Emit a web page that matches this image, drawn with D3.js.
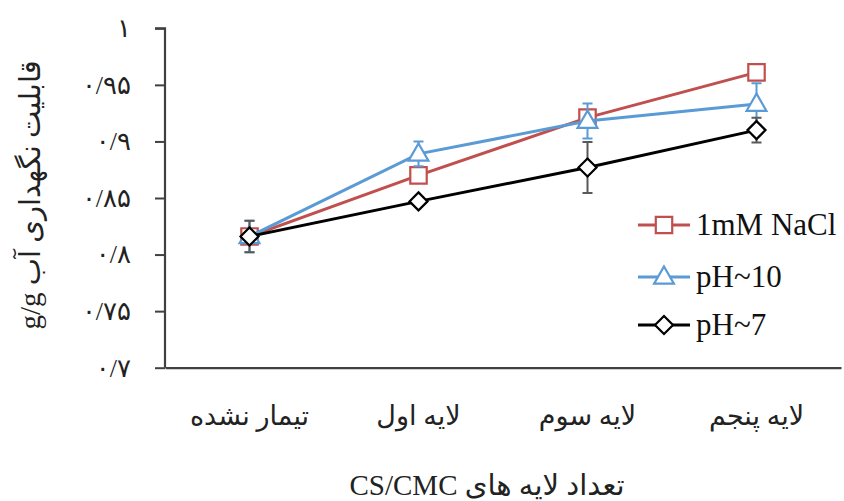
<!DOCTYPE html>
<html><head><meta charset="utf-8">
<script src="https://cdn.jsdelivr.net/npm/d3@7"></script>
<style>body{margin:0;background:#fff}svg{display:block}</style>
</head><body>
<script>
const categories = ["تیمار نشده", "لایه اول", "لایه سوم", "لایه پنجم"];
const seriesNames = ["1mM NaCl", "pH~10", "pH~7"];
const naclValues = [0.816, 0.870, 0.921, 0.961];
const naclErrors = [0.004, 0.004, 0.004, 0.004];
const ph10Values = [0.816, 0.889, 0.918, 0.933];
const ph10Errors = [0.014, 0.011, 0.0155, 0.0185];
const ph7Values = [0.816, 0.847, 0.877, 0.910];
const ph7Errors = [0.014, 0.003, 0.0225, 0.011];
const yTicks = [0.7, 0.75, 0.8, 0.85, 0.9, 0.95, 1];
const yTickLabels = ["۰/۷", "۰/۷۵", "۰/۸", "۰/۸۵", "۰/۹", "۰/۹۵", "۱"];
const yTitle = "قابلیت نگهداری آب  g/g";
const xTitle = "تعداد لایه های  CS/CMC";

const W = 844, H = 501;
const svg = d3.select("body").append("svg").attr("width", W).attr("height", H);
const x = d3.scaleBand().domain(categories).range([165, 841]).padding(0);
const y = d3.scaleLinear().domain([0.7, 1]).range([367.7, 28.3]);

const series = [
  {name: seriesNames[0], values: naclValues, errors: naclErrors, color: "#C0504D", err: "#C0504D", marker: "square"},
  {name: seriesNames[1], values: ph10Values, errors: ph10Errors, color: "#5B9BD5", err: "#5B9BD5", marker: "triangle"},
  {name: seriesNames[2], values: ph7Values, errors: ph7Errors, color: "#000000", err: "#595959", marker: "diamond"}
];

const fa = "'Liberation Serif','DejaVu Sans',serif";

// y axis
const yAxis = d3.axisLeft(y).tickValues(yTicks).tickSize(10).tickPadding(24)
  .tickFormat((d, i) => yTickLabels[i]);
const gy = svg.append("g").attr("transform", "translate(165,0)").call(yAxis);
gy.select(".domain").attr("stroke", "#404040").attr("stroke-width", 2.2).attr("d", `M-10,${y(1)}H0V${y(0.7)}`);
gy.selectAll(".tick line").attr("stroke", "#404040").attr("stroke-width", 2);
gy.selectAll(".tick text").attr("font-family", fa)
  .attr("font-size", 26).attr("fill", "#222").attr("direction", "ltr");

// x axis
const xAxis = d3.axisBottom(x).tickSize(0).tickPadding(38);
const gx = svg.append("g").attr("transform", `translate(0,${y(0.7)})`).call(xAxis);
gx.select(".domain").attr("stroke", "#404040").attr("stroke-width", 2.2);
gx.selectAll(".tick text").attr("font-family", fa)
  .attr("font-size", 27).attr("fill", "#222").attr("direction", "rtl");

function markerPath(type) {
  if (type === "square") return d3.symbol(d3.symbolSquare, 270)();
  if (type === "triangle") return d3.symbol(d3.symbolTriangle, 170)();
  return "M0,-9L9,0L0,9L-9,0Z";
}

series.forEach(s => {
  const g = svg.append("g");
  const cx = (d, i) => x(categories[i]) + x.bandwidth() / 2;
  s.values.forEach((v, i) => {
    const xc = cx(v, i), y1 = y(v + s.errors[i]), y2 = y(v - s.errors[i]);
    g.append("path").attr("d", `M${xc},${y1}V${y2}M${xc-5},${y1}H${xc+5}M${xc-5},${y2}H${xc+5}`)
      .attr("stroke", s.err).attr("stroke-width", 2).attr("fill", "none");
  });
  const line = d3.line().x((d, i) => cx(d, i)).y(d => y(d));
  g.append("path").attr("d", line(s.values)).attr("stroke", s.color).attr("stroke-width", 3).attr("fill", "none");
  g.selectAll(".m").data(s.values).join("path")
    .attr("transform", (d, i) => `translate(${cx(d, i)},${y(d) + (s.marker === "triangle" ? 1 : 0)})`)
    .attr("d", markerPath(s.marker)).attr("fill", "#fff").attr("stroke", s.color).attr("stroke-width", 2.2);
});

// legend
const legY = [225, 277, 325];
series.forEach((s, i) => {
  const g = svg.append("g").attr("transform", `translate(0,${legY[i]})`);
  g.append("line").attr("x1", 638).attr("x2", 690).attr("y1", 0).attr("y2", 0).attr("stroke", s.color).attr("stroke-width", 3);
  g.append("path").attr("transform", `translate(664,${s.marker === "triangle" ? 1 : 0})`).attr("d", markerPath(s.marker))
    .attr("fill", "#fff").attr("stroke", s.color).attr("stroke-width", 2.2);
  g.append("text").attr("x", 696).attr("y", 10).attr("font-family", "'Liberation Serif',serif")
    .attr("font-size", 31).attr("fill", "#111").text(s.name);
});

// titles
svg.append("text").attr("transform", "translate(40,195) rotate(-90)").attr("text-anchor", "middle")
  .attr("font-family", fa).attr("font-size", 29).attr("fill", "#222")
  .attr("direction", "rtl").text(yTitle);
svg.append("text").attr("x", 487).attr("y", 495).attr("text-anchor", "middle")
  .attr("font-family", fa).attr("font-size", 29).attr("fill", "#222")
  .attr("direction", "rtl").text(xTitle);
</script>
</body></html>
